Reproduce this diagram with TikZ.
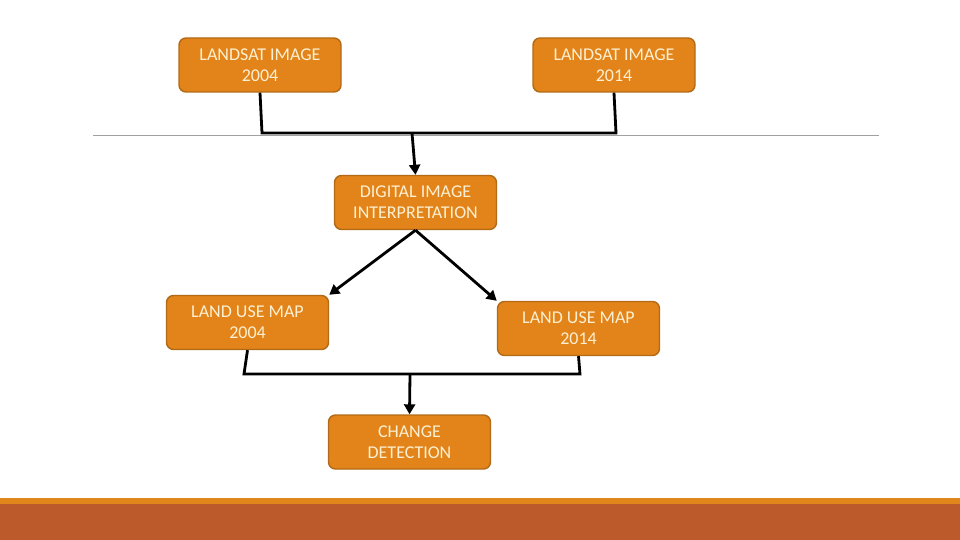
\documentclass[tikz,border=0pt]{standalone}
\usepackage{fontspec}
\setmainfont{Carlito}
\usetikzlibrary{arrows.meta}
\definecolor{boxfill}{HTML}{E2841A}
\definecolor{boxline}{HTML}{B26A16}
\definecolor{boxtext}{HTML}{FDF0D2}
\definecolor{bandtop}{HTML}{E0861A}
\definecolor{bandbot}{HTML}{BC5A2C}
\definecolor{rulegray}{HTML}{A0A0A0}
\tikzset{
  stepbox/.style={draw=boxline, line width=1.4pt, fill=boxfill, rounded corners=7pt,
    minimum width=162pt, minimum height=54pt, inner sep=0pt, text=boxtext,
    align=center, font=\fontsize{18}{21}\selectfont},
  conn/.style={black, line width=2.8pt},
  arr/.style={conn, -{Triangle[length=10pt,width=11pt]}}
}
\begin{document}
\begin{tikzpicture}[x=1pt,y=-1pt]
\useasboundingbox (0,0) rectangle (960,540);
\fill[bandtop] (0,498) rectangle (960,504);
\fill[bandbot] (0,504) rectangle (960,540);
\draw[rulegray, line width=1pt] (93,136) -- (879,136);

\node[stepbox] (l1) at (260,65) {LANDSAT IMAGE\\2004};
\node[stepbox] (l2) at (614,65) {LANDSAT IMAGE\\2014};
\node[stepbox] (dii) at (415.5,202.5) {DIGITAL IMAGE\\INTERPRETATION};
\node[stepbox] (lu1) at (247.5,322.5) {LAND USE MAP\\2004};
\node[stepbox] (lu2) at (578.5,328.5) {LAND USE MAP\\2014};
\node[stepbox] (cd) at (409.5,442) {CHANGE\\DETECTION};

\coordinate (j1a) at (262,133);
\coordinate (j1b) at (616,133);
\coordinate (j1m) at (412,133);
\coordinate (j2a) at (244,374);
\coordinate (j2b) at (580,374);
\coordinate (j2m) at (410,374);

\draw[conn] (l1.south) -- (j1a) -- (j1b) -- (l2.south);
\draw[arr] (j1m) -- (dii.north);
\draw[arr] (dii.south) -- (lu1.north east);
\draw[arr] (dii.south) -- (lu2.north west);
\draw[conn] (lu1.south) -- (j2a) -- (j2b) -- (lu2.south);
\draw[arr] (j2m) -- (cd.north);
\end{tikzpicture}
\end{document}
